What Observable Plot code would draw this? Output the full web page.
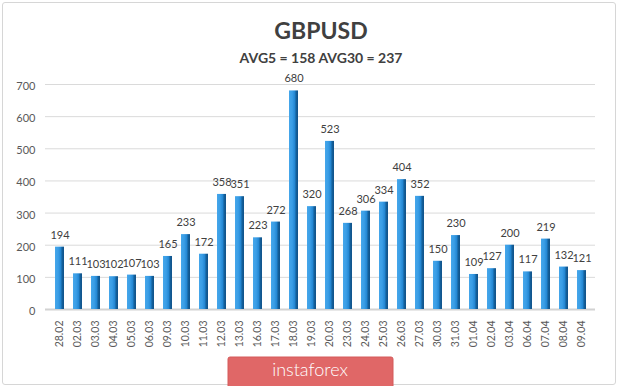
<!DOCTYPE html>
<html>
<head>
<meta charset="utf-8">
<script src="https://cdn.jsdelivr.net/npm/d3@7"></script>
<script src="https://cdn.jsdelivr.net/npm/@observablehq/plot@0.6"></script>
<style>
  html, body { margin: 0; padding: 0; background: #fff; }
  #wrap { position: relative; width: 620px; height: 386px; overflow: hidden; background: #fff; }
  #frame { position: absolute; left: 2px; top: 2px; width: 612px; height: 381px; border: 1px solid #d6d6d6; border-radius: 3px; pointer-events: none; }
  #wrap svg { position: absolute; left: 0; top: 0; }
</style>
</head>
<body>
<div id="wrap"><div id="frame"></div></div>
<script>
const title = "GBPUSD";
const subtitle = "AVG5 = 158 AVG30 = 237";
const watermark = "instaforex";
const dates = ["28.02","02.03","03.03","04.03","05.03","06.03","09.03","10.03","11.03","12.03","13.03","16.03","17.03","18.03","19.03","20.03","23.03","24.03","25.03","26.03","27.03","30.03","31.03","01.04","02.04","03.04","06.04","07.04","08.04","09.04"];
const values = [194,111,103,102,107,103,165,233,172,358,351,223,272,680,320,523,268,306,334,404,352,150,230,109,127,200,117,219,132,121];
const yTicks = [0,100,200,300,400,500,600,700];

const data = dates.map((d, i) => ({date: d, value: values[i]}));

const chart = Plot.plot({
  width: 620,
  height: 386,
  marginTop: 84,
  marginBottom: 77,
  marginLeft: 45,
  marginRight: 25,
  style: {fontFamily: "Lato, 'Open Sans', sans-serif", background: "transparent", overflow: "visible"},
  x: {domain: dates, paddingInner: 0.5, paddingOuter: 0.5, label: null},
  y: {domain: [0, 700], label: null},
  marks: [
    Plot.ruleY(yTicks.filter(t => t > 0), {stroke: "#dadada", strokeWidth: 1}),
    Plot.ruleY([0], {stroke: "#d2d2d2", strokeWidth: 2}),
    Plot.barY(data, {x: "date", y: "value", fill: "url(#barGrad)"}),
    Plot.text(data, {x: "date", y: "value", text: d => String(d.value), dy: -12, fontSize: 11, fill: "#404040"}),
    Plot.axisY({ticks: yTicks, tickSize: 0, tickPadding: 10, fontSize: 11, fill: "#595959", dy: 2, label: null}),
    Plot.axisX({tickSize: 0, tickRotate: -90, tickPadding: 11, fontSize: 10.5, fill: "#595959", label: null})
  ]
});

const svgNS = "http://www.w3.org/2000/svg";
const defs = document.createElementNS(svgNS, "defs");
defs.innerHTML = `<linearGradient id="barGrad" x1="0" x2="1" y1="0" y2="0">
  <stop offset="0" stop-color="#45a6ea"/>
  <stop offset="0.35" stop-color="#3a9ee6"/>
  <stop offset="0.7" stop-color="#1f82cf"/>
  <stop offset="0.74" stop-color="#16649f"/>
  <stop offset="1" stop-color="#10528a"/>
</linearGradient>`;
chart.insertBefore(defs, chart.firstChild);

const s = d3.select(chart);
s.append("text").attr("x", 321).attr("y", 39).attr("text-anchor", "middle")
  .attr("font-family", "Lato, sans-serif").attr("font-weight", "bold").attr("font-size", 23)
  .attr("fill", "#404040").text(title);
s.append("text").attr("x", 321).attr("y", 62.5).attr("text-anchor", "middle")
  .attr("font-family", "Lato, sans-serif").attr("font-weight", "bold").attr("font-size", 14)
  .attr("fill", "#404040").text(subtitle);
s.append("rect").attr("x", 228).attr("y", 357).attr("width", 165).attr("height", 32)
  .attr("rx", 2).attr("fill", "#e06767").attr("stroke", "#d45a5a");
s.append("text").attr("x", 310).attr("y", 376).attr("text-anchor", "middle")
  .attr("font-family", "Lato, sans-serif").attr("font-weight", 300).attr("font-size", 18)
  .attr("fill", "#ffffff").text(watermark);

document.getElementById("wrap").appendChild(chart);
</script>
</body>
</html>
